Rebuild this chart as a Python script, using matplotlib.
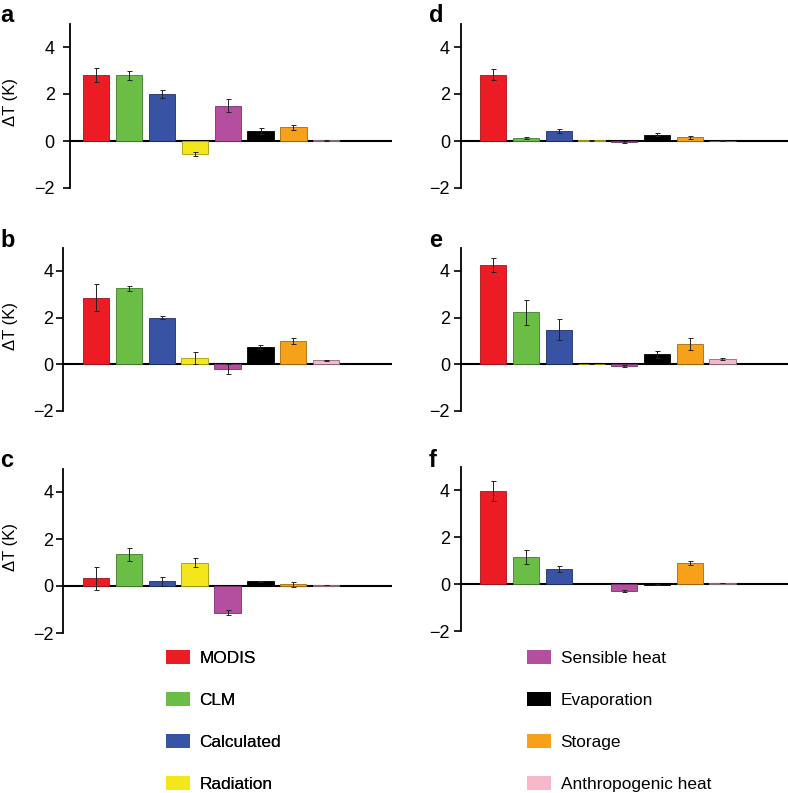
import matplotlib

matplotlib.use("Agg")
import matplotlib.pyplot as plt
import numpy as np
from matplotlib.patches import Patch

plt.rcParams["font.family"] = ["Liberation Sans", "DejaVu Sans"]

# Components, in bar order
labels = ["MODIS", "CLM", "Calculated", "Radiation",
          "Sensible heat", "Evaporation", "Storage", "Anthropogenic heat"]
colors = ["#ec1c24", "#6abd45", "#3953a4", "#f3e71c",
          "#b44e9e", "#000000", "#f7a11b", "#f5b8c9"]
edges = ["#a31419", "#3f7f2a", "#1f3068", "#a69d10",
         "#7a2f6b", "#000000", "#a86a0d", "#8a6a74"]

# Delta T (K) and its error for each panel (nan = no bar)
dt_a = [2.80, 2.80, 2.00, -0.55, 1.50, 0.42, 0.58, 0.03]
err_a = [0.30, 0.20, 0.15, 0.10, 0.28, 0.12, 0.12, 0.01]
dt_b = [2.85, 3.25, 2.00, 0.28, -0.20, 0.73, 1.00, 0.18]
err_b = [0.58, 0.12, 0.06, 0.25, 0.22, 0.08, 0.12, 0.02]
dt_c = [0.32, 1.35, 0.20, 1.00, -1.13, 0.20, 0.07, 0.04]
err_c = [0.48, 0.28, 0.20, 0.18, 0.12, 0.03, 0.12, 0.01]
dt_d = [2.82, 0.13, 0.42, 0.03, -0.05, 0.27, 0.15, 0.02]
err_d = [0.23, 0.05, 0.10, 0.01, 0.03, 0.07, 0.05, 0.01]
dt_e = [4.25, 2.22, 1.48, 0.02, -0.08, 0.43, 0.88, 0.22]
err_e = [0.30, 0.52, 0.45, 0.01, 0.05, 0.15, 0.25, 0.04]
dt_f = [3.98, 1.15, 0.63, np.nan, -0.30, -0.02, 0.90, 0.04]
err_f = [0.42, 0.30, 0.13, np.nan, 0.03, 0.01, 0.10, 0.01]

W, H = 788, 793


def px_axes(fig, left, right, top, bottom):
    return fig.add_axes([left / W, 1 - bottom / H, (right - left) / W, (bottom - top) / H])


def panel(ax, vals, errs, x0, pad, ylabel=None, ylab_x=None):
    x = np.arange(len(vals))
    ax.axhline(0, color="black", lw=1.5, zorder=1)
    ax.bar(x, vals, width=0.8, color=colors, edgecolor=edges, linewidth=0.6, zorder=2,
           yerr=errs, error_kw=dict(ecolor="#222222", elinewidth=0.7, capsize=1.8, capthick=0.7))
    ax.set_xlim(x0, 9.0)
    ax.set_ylim(-2, 5)
    ax.set_yticks([-2, 0, 2, 4])
    ax.set_yticklabels(["\u22122", "0", "2", "4"])
    ax.set_xticks([])
    for s in ["top", "right", "bottom"]:
        ax.spines[s].set_visible(False)
    ax.spines["left"].set_linewidth(1.3)
    ax.tick_params(axis="y", direction="out", length=5, width=1.2, labelsize=13, pad=pad)
    if ylabel:
        ax.set_ylabel(ylabel, fontsize=12)
        ax.yaxis.set_label_coords(ylab_x, 0.52)


fig = plt.figure(figsize=(W / 100, H / 100), dpi=100)

ax_a = px_axes(fig, 70, 392, 23.5, 188)
panel(ax_a, dt_a, err_a, -0.8, 6, "\u0394T (K)", -0.161)
ax_b = px_axes(fig, 63, 392, 247.6, 411)
panel(ax_b, dt_b, err_b, -1.0, 2, "\u0394T (K)", -0.137)
ax_c = px_axes(fig, 63, 392, 468.5, 633)
panel(ax_c, dt_c, err_c, -1.0, 2, "\u0394T (K)", -0.137)
ax_d = px_axes(fig, 461, 788, 23.5, 188)
panel(ax_d, dt_d, err_d, -0.98, 3)
ax_e = px_axes(fig, 461, 788, 247.6, 411)
panel(ax_e, dt_e, err_e, -0.98, 3)
ax_f = px_axes(fig, 461, 788, 467, 631)
panel(ax_f, dt_f, err_f, -0.98, 3)

for letter, xp, yp in [("a", 0, 22), ("b", 0, 247), ("c", 0, 467),
                       ("d", 429, 22), ("e", 429, 247), ("f", 429, 467)]:
    fig.text(xp / W, 1 - yp / H, letter, fontsize=17, fontweight="bold", ha="left", va="baseline")

handles = [Patch(facecolor=c, edgecolor="none") for c in colors]
leg_kw = dict(frameon=False, fontsize=12.4, handlelength=1.4, handleheight=0.87,
              handletextpad=0.55, labelspacing=1.52, borderpad=0, borderaxespad=0,
              loc="upper left")
leg1 = fig.legend(handles[:4], labels[:4], bbox_to_anchor=(166 / W, 1 - 650 / H), **leg_kw)
fig.add_artist(leg1)
fig.legend(handles[4:], labels[4:], bbox_to_anchor=(527 / W, 1 - 650 / H), **leg_kw)

fig.savefig("out.png", dpi=100)
